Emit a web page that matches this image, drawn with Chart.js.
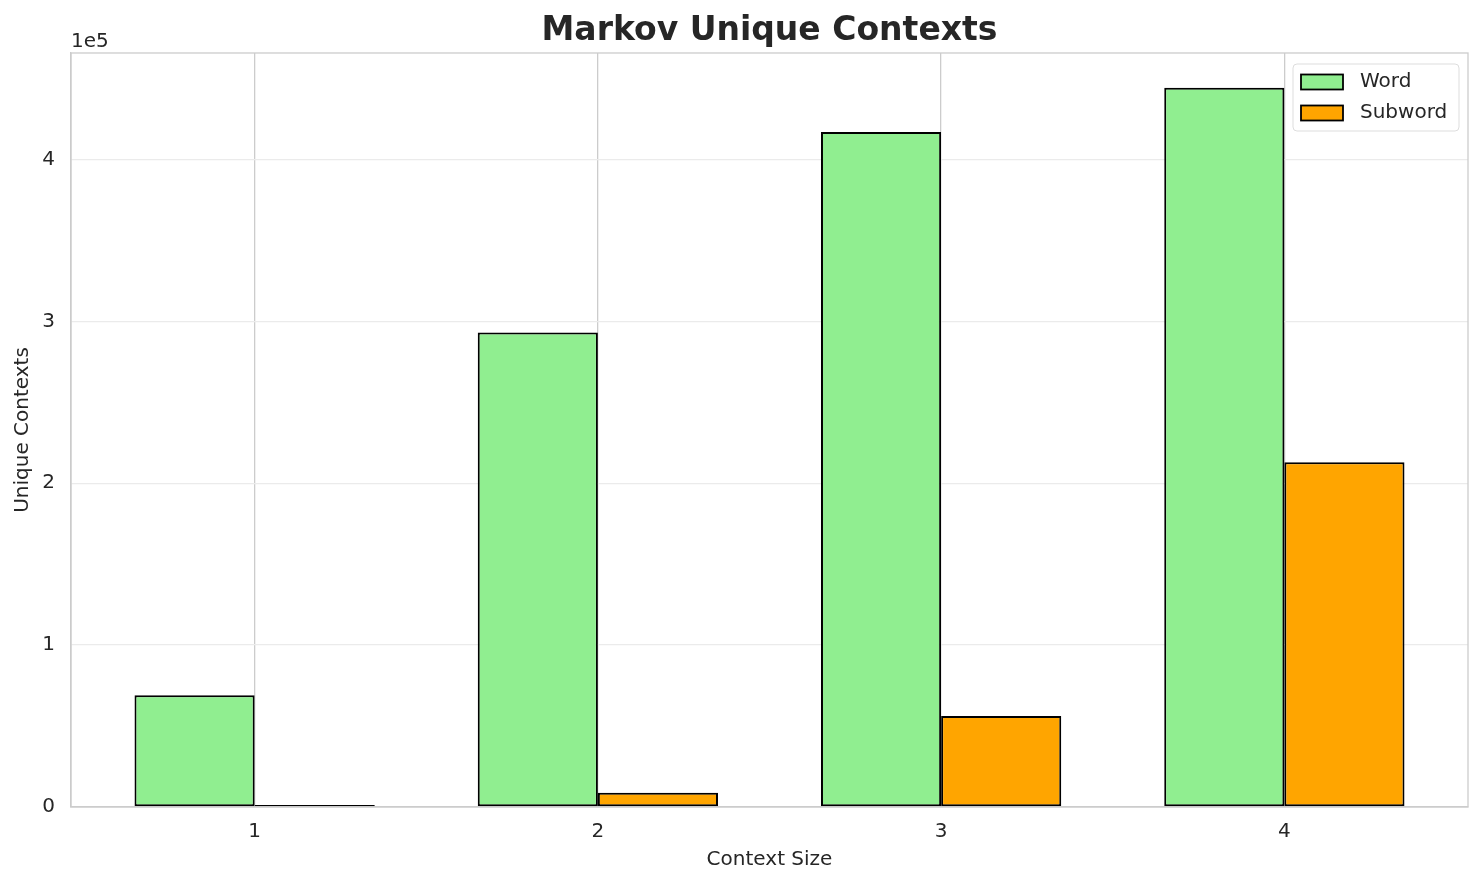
<!DOCTYPE html>
<html lang="en">
<head>
    <meta charset="UTF-8">
    <title>Markov Unique Contexts</title>
    <script src="https://cdn.jsdelivr.net/npm/chart.js"></script>
    <style>
        html, body {
            margin: 0;
            padding: 0;
            background: #ffffff;
        }
        #wrap {
            width: 1483px;
            height: 885px;
        }
    </style>
</head>
<body>
    <div id="wrap"><canvas id="chart"></canvas></div>

    <script>
        // data
        const contextSizes = [1, 2, 3, 4];
        const wordContexts = [69000, 293200, 417000, 444300];
        const subwordContexts = [500, 8800, 56200, 212900];
        const yTicks = [0, 100000, 200000, 300000, 400000];
        const yMax = 465800;

        const textColor = '#262626';
        const font = 'DejaVu Sans';

        // matplotlib-ish frame, offset text and boxed legend
        const extras = {
            id: 'extras',
            afterDraw(chart) {
                const ctx = chart.ctx;
                const a = chart.chartArea;
                ctx.save();
                ctx.strokeStyle = '#cccccc';
                ctx.lineWidth = 1.3;
                ctx.strokeRect(a.left, a.top, a.right - a.left, a.bottom - a.top);

                ctx.fillStyle = textColor;
                ctx.font = '20px "' + font + '"';
                ctx.textAlign = 'left';
                ctx.textBaseline = 'alphabetic';
                ctx.fillText('1e5', a.left, a.top - 6);

                // legend
                const bx = a.right - 175, by = a.top + 11, bw = 166, bh = 67;
                ctx.beginPath();
                ctx.roundRect(bx, by, bw, bh, 4);
                ctx.fillStyle = 'rgba(255,255,255,0.8)';
                ctx.fill();
                ctx.strokeStyle = '#dddddd';
                ctx.lineWidth = 1;
                ctx.stroke();
                chart.data.datasets.forEach((ds, i) => {
                    const ry = by + 18 + i * 31;
                    ctx.fillStyle = ds.backgroundColor;
                    ctx.fillRect(bx + 8, ry - 7.5, 42, 15);
                    ctx.strokeStyle = ds.borderColor;
                    ctx.lineWidth = 1.8;
                    ctx.strokeRect(bx + 8, ry - 7.5, 42, 15);
                    ctx.fillStyle = textColor;
                    ctx.textBaseline = 'middle';
                    ctx.fillText(ds.label, bx + 67, ry);
                });
                ctx.restore();
            }
        };

        new Chart(document.getElementById('chart'), {
            type: 'bar',
            data: {
                datasets: [
                    {
                        label: 'Word',
                        data: contextSizes.map((c, i) => ({ x: c, y: wordContexts[i] })),
                        backgroundColor: '#90EE90',
                        borderColor: '#000000',
                        borderWidth: 2,
                        borderSkipped: false
                    },
                    {
                        label: 'Subword',
                        data: contextSizes.map((c, i) => ({ x: c, y: subwordContexts[i] })),
                        backgroundColor: '#FFA500',
                        borderColor: '#000000',
                        borderWidth: 2,
                        borderSkipped: false,
                        minBarLength: 2
                    }
                ]
            },
            options: {
                responsive: true,
                maintainAspectRatio: false,
                animation: false,
                devicePixelRatio: 1,
                categoryPercentage: 0.7,
                barPercentage: 1.0,
                layout: {
                    padding: { left: 0, right: 15, top: 0, bottom: 0 }
                },
                plugins: {
                    legend: { display: false },
                    tooltip: { enabled: false },
                    title: {
                        display: true,
                        fullSize: false,
                        text: 'Markov Unique Contexts',
                        color: textColor,
                        font: { family: font, size: 33, weight: 'bold' },
                        padding: { top: 12, bottom: 1.4 }
                    }
                },
                scales: {
                    x: {
                        type: 'linear',
                        min: 0.465,
                        max: 4.535,
                        offset: false,
                        afterFit(scale) { scale.height = 78; },
                        afterBuildTicks(scale) {
                            scale.ticks = contextSizes.map(v => ({ value: v }));
                        },
                        ticks: {
                            color: textColor,
                            font: { family: font, size: 20 },
                            padding: 13,
                            callback: v => String(v)
                        },
                        grid: {
                            offset: false,
                            color: '#cccccc',
                            lineWidth: 1.3,
                            drawTicks: false
                        },
                        border: { color: '#cccccc', width: 1.3 },
                        title: {
                            display: true,
                            text: 'Context Size',
                            color: textColor,
                            font: { family: font, size: 20 },
                            padding: { top: 0, bottom: 13 }
                        }
                    },
                    y: {
                        min: 0,
                        max: yMax,
                        afterFit(scale) { scale.width = 71; },
                        afterBuildTicks(scale) {
                            scale.ticks = yTicks.map(v => ({ value: v }));
                        },
                        ticks: {
                            color: textColor,
                            font: { family: font, size: 20 },
                            padding: 16,
                            callback: v => String(v / 100000)
                        },
                        grid: {
                            color: '#ebebeb',
                            lineWidth: 1.3,
                            drawTicks: false
                        },
                        border: { color: '#cccccc', width: 1.3 },
                        title: {
                            display: true,
                            text: 'Unique Contexts',
                            color: textColor,
                            font: { family: font, size: 20 },
                            padding: { top: 11, bottom: 0 }
                        }
                    }
                }
            },
            plugins: [extras]
        });
    </script>
</body>
</html>
